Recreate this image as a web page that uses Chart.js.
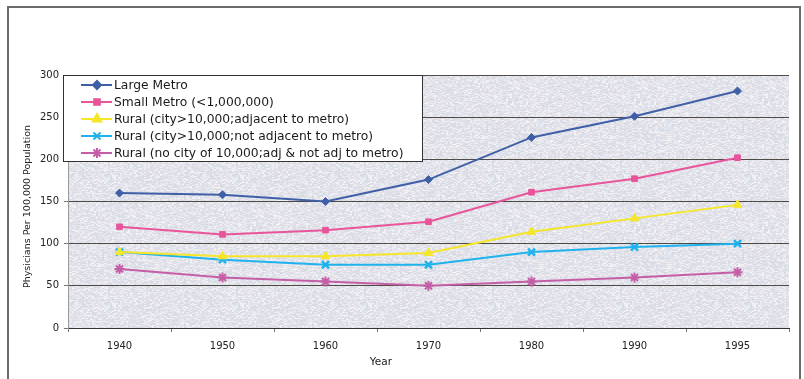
<!DOCTYPE html>
<html>
<head>
<meta charset="utf-8">
<script src="https://cdn.jsdelivr.net/npm/chart.js@4/dist/chart.umd.min.js"></script>
<style>
  html, body { margin: 0; padding: 0; background: #fff; }
  #wrap { width: 804px; height: 379px; position: relative; }
</style>
</head>
<body>
<div id="wrap"><canvas id="physChart"></canvas></div>
<script>
// 1. DATA
const years = ['1940', '1950', '1960', '1970', '1980', '1990', '1995'];
const largeMetro = [160, 158, 150, 176, 226, 251, 281];
const smallMetro = [120, 111, 116, 126, 161, 177, 202];
const ruralAdjacent = [90, 85, 85, 89, 114, 130, 146];
const ruralNotAdjacent = [90, 81, 75, 75, 90, 96, 100];
const ruralNoCity = [70, 60, 55, 50, 55, 60, 66];
const yTicks = [0, 50, 100, 150, 200, 250, 300];

const FONT = 'DejaVu Sans';

// speckled plot background like the scanned original (fixed hash, not data)
function hash(n) {
    n = Math.imul(n ^ (n >>> 15), 0x2c1b3c6d);
    n = Math.imul(n ^ (n >>> 12), 0x297a2d39);
    return (n ^ (n >>> 15)) >>> 0;
}
function makeNoise() {
    const c = document.createElement('canvas');
    c.width = 128; c.height = 128;
    const g = c.getContext('2d');
    const pal = ['#eceef3', '#d9dde6', '#eee9ed', '#dde2ee', '#e5dee5', '#d5d9e2', '#e6e9f0', '#f3f3f6', '#e0dee4', '#dbe0ea'];
    for (let y = 0; y < 128; y++) {
        for (let x = 0; x < 128; x += 2) {
            const h = hash(y * 1000 + x + 77);
            g.fillStyle = pal[h % pal.length];
            g.fillRect(x, y, 2, 1);
        }
    }
    return c;
}
const noise = makeNoise();

// 2. PLUGINS
const frame = {
    id: 'frame',
    beforeDraw(chart) {
        const ctx = chart.ctx, a = chart.chartArea;
        ctx.save();
        ctx.fillStyle = '#fff';
        ctx.fillRect(0, 0, chart.width, chart.height);
        ctx.strokeStyle = '#6b6b6b';
        ctx.lineWidth = 2;
        ctx.strokeRect(8, 7, 792, chart.height + 10);
        ctx.fillStyle = ctx.createPattern(noise, 'repeat');
        ctx.fillRect(a.left, a.top, a.right - a.left, a.bottom - a.top);
        ctx.restore();
    },
    afterDraw(chart) {
        const ctx = chart.ctx, a = chart.chartArea;
        ctx.save();
        ctx.fillStyle = '#222';
        ctx.textAlign = 'center';
        ctx.textBaseline = 'middle';
        ctx.font = '10.5px "' + FONT + '"';
        ctx.fillText('Year', a.left + (a.right - a.left) * 0.434, 362);
        ctx.translate(28, (a.top + a.bottom) / 2 + 5);
        ctx.rotate(-Math.PI / 2);
        ctx.font = '9.5px "' + FONT + '"';
        ctx.fillText('Physicians Per 100,000 Population', 0, 0);
        ctx.restore();
    }
};

const boxLegend = {
    id: 'boxLegend',
    afterDatasetsDraw(chart) {
        const ctx = chart.ctx, a = chart.chartArea;
        const x0 = a.left - 5, y0 = a.top;
        ctx.save();
        ctx.fillStyle = '#fff';
        ctx.fillRect(x0, y0, 359, 86);
        ctx.strokeStyle = '#333';
        ctx.lineWidth = 1;
        ctx.strokeRect(x0 + 0.5, y0 + 0.5, 359, 86);
        ctx.font = '12.3px "' + FONT + '"';
        ctx.textBaseline = 'middle';
        chart.data.datasets.forEach((ds, i) => {
            const y = y0 + 10 + i * 17;
            ctx.strokeStyle = ds.borderColor;
            ctx.lineWidth = 2;
            ctx.beginPath();
            ctx.moveTo(x0 + 18, y);
            ctx.lineTo(x0 + 49, y);
            ctx.stroke();
            ctx.fillStyle = ds.pointBackgroundColor;
            ctx.strokeStyle = ds.pointBorderColor;
            Chart.helpers.drawPoint(ctx, {
                pointStyle: ds.pointStyle, radius: ds.pointRadius,
                borderWidth: ds.pointBorderWidth, rotation: 0
            }, x0 + 34, y);
            ctx.fillStyle = '#1a1a1a';
            ctx.fillText(ds.label, x0 + 51, y + 1);
        });
        ctx.restore();
    }
};

// 3. CHART
function series(label, data, color, style, radius, bw) {
    return {
        label, data,
        borderColor: color, backgroundColor: color,
        pointBackgroundColor: color, pointBorderColor: color,
        pointStyle: style, pointRadius: radius, pointBorderWidth: bw,
        borderWidth: 2, tension: 0
    };
}

new Chart(document.getElementById('physChart'), {
    type: 'line',
    data: {
        labels: years,
        datasets: [
            series('Large Metro', largeMetro, '#3f5fa6', 'rectRot', 4, 1),
            series('Small Metro (<1,000,000)', smallMetro, '#e8559b', 'rect', 4, 1),
            series('Rural (city>10,000;adjacent to metro)', ruralAdjacent, '#f6e62a', 'triangle', 5, 1),
            series('Rural (city>10,000;not adjacent to metro)', ruralNotAdjacent, '#1fb2ec', 'crossRot', 5, 2.5),
            series('Rural (no city of 10,000;adj & not adj to metro)', ruralNoCity, '#c45ea6', 'star', 5, 2)
        ]
    },
    options: {
        responsive: true,
        maintainAspectRatio: false,
        animation: false,
        layout: { padding: { top: 75, right: 15, left: 0, bottom: 0 } },
        plugins: { legend: { display: false }, tooltip: { enabled: false } },
        scales: {
            x: {
                offset: true,
                afterFit: s => { s.height = 51; },
                grid: { display: true, drawOnChartArea: false, drawTicks: true, tickLength: 4, color: '#777', offset: true },
                border: { display: true, color: '#333', width: 1 },
                ticks: { color: '#222', font: { family: FONT, size: 10 }, padding: 8, maxRotation: 0 }
            },
            y: {
                min: 0, max: 300,
                afterFit: s => { s.width = 68; },
                afterBuildTicks: s => { s.ticks = yTicks.map(v => ({ value: v })); },
                grid: { color: '#4e4a46', lineWidth: 1, tickLength: 4, tickColor: '#777' },
                border: { display: true, color: '#9a9a9a', width: 1 },
                ticks: { color: '#222', font: { family: FONT, size: 10 }, padding: 5 }
            }
        }
    },
    plugins: [frame, boxLegend]
});
</script>
</body>
</html>
